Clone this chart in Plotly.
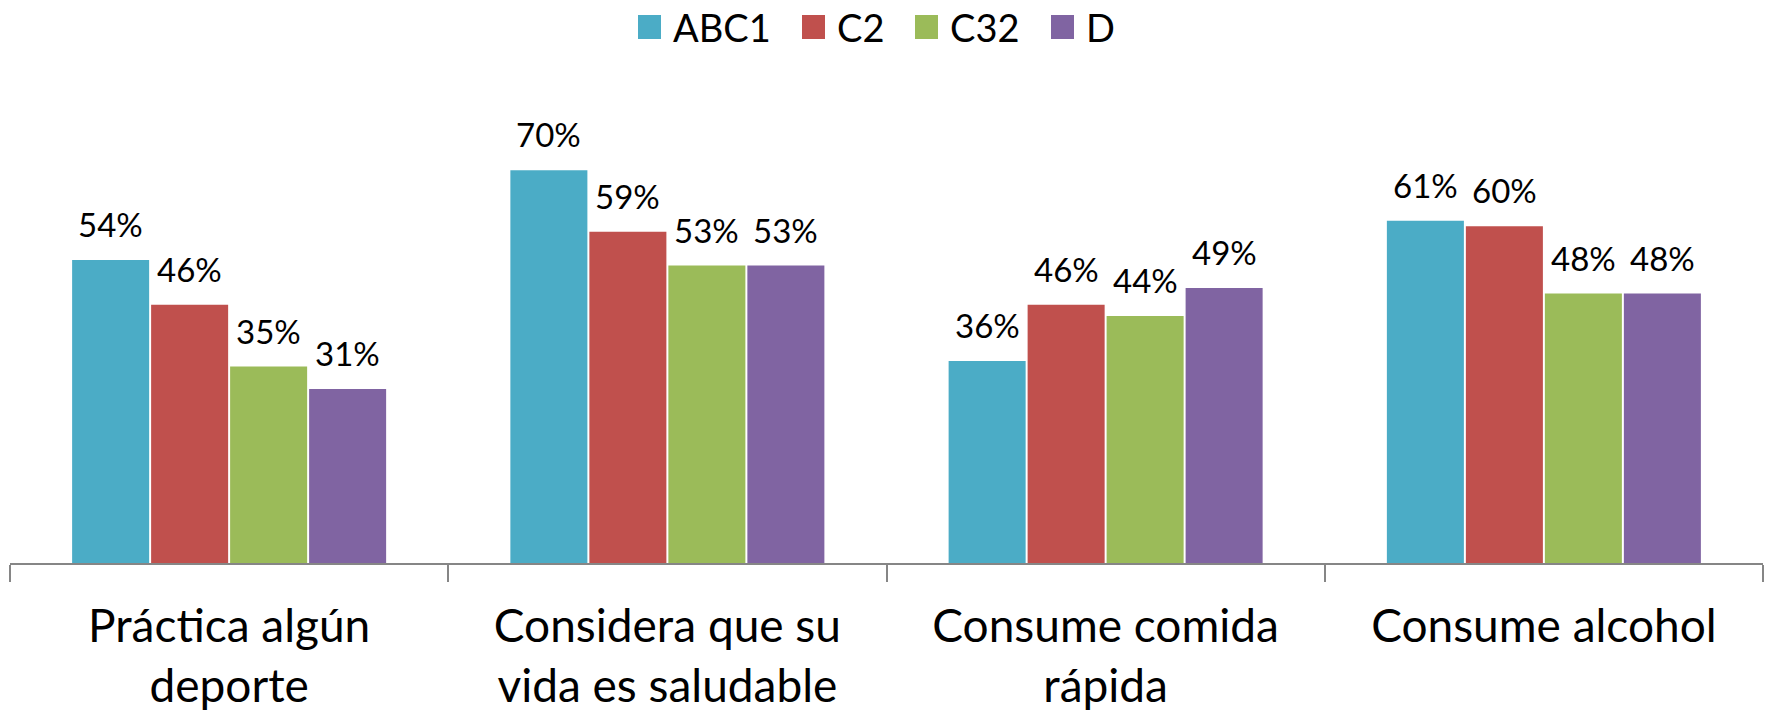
import plotly.graph_objects as go

categories = ["Práctica algún<br>deporte", "Considera que su<br>vida es saludable",
              "Consume comida<br>rápida", "Consume alcohol"]
series_names = ["ABC1", "C2", "C32", "D"]
abc1 = [54, 70, 36, 61]
c2 = [46, 59, 46, 60]
c32 = [35, 53, 44, 48]
d = [31, 53, 49, 48]
colors = ["#4BACC6", "#C0504D", "#9BBB59", "#8064A2"]

series_values = [abc1, c2, c32, d]
FONT = "Lato"
W, H = 1772, 724
ML, MR, MT, MB = 10, 9, 114, 161
BARGAP = 0.279
BARGROUPGAP = 0.025

fig = go.Figure()
for name, vals, col in zip(series_names, series_values, colors):
    fig.add_trace(go.Bar(x=categories, y=vals, name=name, marker_color=col,
                         marker_line_width=0, showlegend=False))

# data labels
n = len(series_names)
group_w = 1 - BARGAP
slot = group_w / n
annotations = []
for j, vals in enumerate(series_values):
    for i, v in enumerate(vals):
        annotations.append(dict(
            x=i - group_w / 2 + slot * (j + 0.5), y=v, xref="x", yref="y",
            text=f"{v}%", showarrow=False, yanchor="bottom", yshift=14,
            font=dict(family=FONT, size=33, color="#000000")))

# custom legend (positions in page pixels)
plot_w = W - ML - MR
plot_h = H - MT - MB
def px_x(px):
    return (px - ML) / plot_w
def px_y(py):
    return (H - MB - py) / plot_h

legend_sq_x = [638, 802, 915, 1051]
shapes = []
for name, col, sx in zip(series_names, colors, legend_sq_x):
    shapes.append(dict(type="rect", xref="paper", yref="paper",
                       x0=px_x(sx), x1=px_x(sx + 23), y0=px_y(39), y1=px_y(15),
                       fillcolor=col, line_width=0))
    annotations.append(dict(x=px_x(sx + 33), y=px_y(27), xref="paper", yref="paper",
                            text=name, showarrow=False, xanchor="left", yanchor="middle",
                            font=dict(family=FONT, size=38, color="#000000")))

fig.update_layout(
    width=W, height=H,
    margin=dict(l=ML, r=MR, t=MT, b=MB),
    barmode="group", bargap=BARGAP, bargroupgap=BARGROUPGAP,
    plot_bgcolor="white", paper_bgcolor="white",
    annotations=annotations, shapes=shapes,
    font=dict(family=FONT, color="#000000"),
)
fig.update_xaxes(showline=True, linecolor="#868686", linewidth=1.5,
                 ticks="outside", tickson="boundaries", ticklen=17,
                 tickcolor="#868686", tickwidth=1.5, showgrid=False,
                 tickfont=dict(family=FONT, size=46, color="#000000"),
                 ticklabelstandoff=22, automargin=False)
fig.update_yaxes(range=[0, 80], visible=False, showgrid=False)

fig.write_html("out.html", config={"displayModeBar": False},
               post_script="document.body.style.margin='0';document.body.style.overflow='hidden';")
